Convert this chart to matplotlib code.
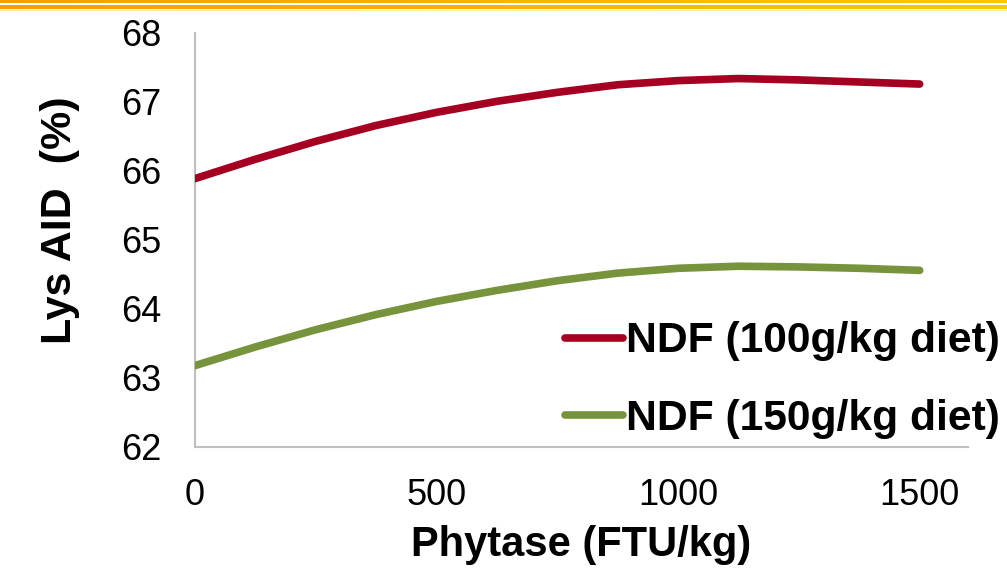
import numpy as np
from matplotlib import pyplot as plt
from matplotlib.colors import LinearSegmentedColormap

# values
phytase = [0, 125, 250, 375, 500, 625, 750, 875, 1000, 1125, 1250, 1375, 1500]
ndf_100 = [65.89, 66.17, 66.43, 66.66, 66.85, 67.01, 67.14, 67.25, 67.31, 67.34, 67.32, 67.29, 67.26]
ndf_150 = [63.18, 63.45, 63.70, 63.92, 64.11, 64.27, 64.41, 64.52, 64.59, 64.62, 64.61, 64.59, 64.56]
x_ticks = [0, 500, 1000, 1500]
y_ticks = [62, 63, 64, 65, 66, 67, 68]

plt.rcParams['font.family'] = ['Liberation Sans', 'DejaVu Sans']

fig = plt.figure(figsize=(10.07, 5.68), dpi=100)

# orange banner at the top of the slide
band = LinearSegmentedColormap.from_list('band', ['#F5A000', '#FAC800'])
grad = np.linspace(0, 1, 256).reshape(1, -1)
for y0, h in [(1 - 3.5 / 568, 3.5 / 568), (1 - 9.5 / 568, 5 / 568)]:
    bax = fig.add_axes([0, y0, 1, h])
    bax.imshow(grad, aspect='auto', cmap=band)
    bax.axis('off')
pax = fig.add_axes([0, 1 - 11 / 568, 1, 1.5 / 568])
pax.set_facecolor('#FDEBA0')
pax.set_xticks([])
pax.set_yticks([])
for s in pax.spines.values():
    s.set_visible(False)

ax = fig.add_axes([195 / 1007, 1 - 447 / 568, 773 / 1007, 414 / 568])
ax.plot(phytase, ndf_100, c='#A50021', lw=5.5, solid_capstyle='round',
        label='NDF (100g/kg diet)')
ax.plot(phytase, ndf_150, c='#77933C', lw=5.5, solid_capstyle='round',
        label='NDF (150g/kg diet)')

ax.set_xlim(0, 1600)
ax.set_ylim(62, 68)
ax.set_xticks(x_ticks)
ax.set_yticks(y_ticks)
ax.tick_params(axis='both', length=0, labelsize=26)
ax.tick_params(axis='x', pad=22)
ax.tick_params(axis='y', pad=24)
for s in ['top', 'right']:
    ax.spines[s].set_visible(False)
for s in ['left', 'bottom']:
    ax.spines[s].set_color('#BFBFBF')
    ax.spines[s].set_linewidth(1.5)
ax.spines['left'].set_zorder(0)

ax.set_xlabel('Phytase (FTU/kg)', fontsize=30, fontweight='bold', labelpad=9)
ax.set_ylabel('Lys AID  (%)', fontsize=31, fontweight='bold',
              va='center', ha='center')
ax.yaxis.set_label_coords(-0.175, 0.548)

fig.legend(loc='center left', bbox_to_anchor=(565 / 1007, 1 - 380 / 568),
           frameon=False, prop={'weight': 'bold', 'size': 30.7},
           handlelength=1.36, handletextpad=0.07, labelspacing=0.87,
           borderpad=0, borderaxespad=0)

fig.savefig('out.png', dpi=100)
